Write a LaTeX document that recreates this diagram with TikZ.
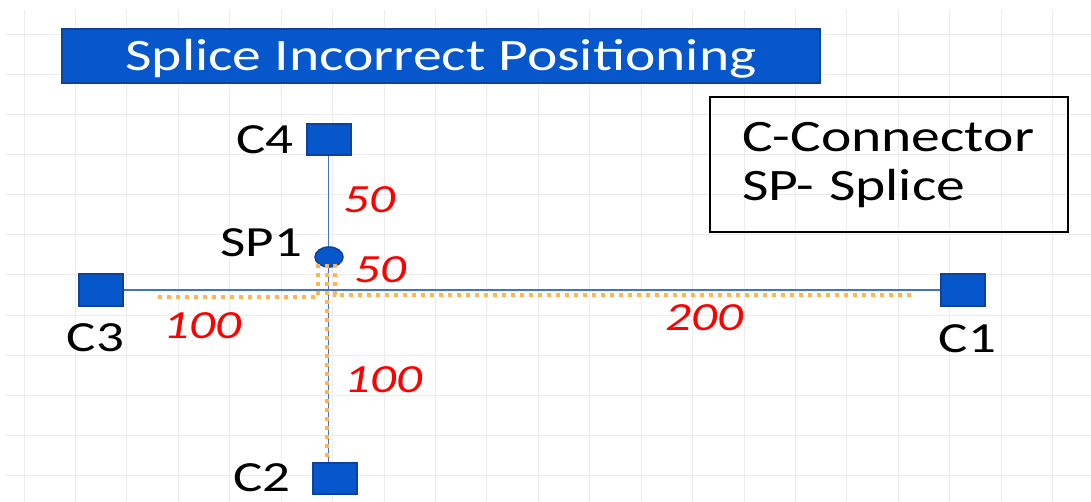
\documentclass[tikz,border=0pt]{standalone}
\usepackage{fontspec}
\setmainfont{Carlito}[FakeStretch=1.28]
\usetikzlibrary{positioning, shapes.geometric, backgrounds}

\definecolor{boxblue}{RGB}{6,86,204}
\definecolor{edgeblue}{RGB}{14,66,156}
\definecolor{wireblue}{RGB}{68,114,196}
\definecolor{routeorange}{RGB}{255,182,82}
\definecolor{gridgray}{RGB}{236,236,236}

\begin{document}
\begin{tikzpicture}[
    x=1pt, y=-1pt,
    titlebox/.style={draw=edgeblue, fill=boxblue, line width=2pt, text=white, inner sep=0pt,
        minimum width=758pt, minimum height=54pt, text height=30pt, text depth=0pt,
        font=\fontsize{45}{50}\selectfont},
    legendbox/.style={draw=black, line width=2pt, align=left, text width=294pt, inner xsep=32pt,
        inner ysep=0pt, minimum height=135pt, text height=29pt, text depth=54pt,
        font=\fontsize{45}{49}\selectfont},
    conn/.style={rectangle, draw=edgeblue, fill=boxblue, line width=2pt,
        minimum width=44pt, minimum height=31pt, inner sep=0pt},
    splice/.style={ellipse, draw=edgeblue, fill=boxblue, line width=1.5pt,
        minimum width=28pt, minimum height=20pt, inner sep=0pt},
    tag/.style={inner sep=0pt, font=\fontsize{43}{46}\selectfont},
    len/.style={inner sep=0pt, text=red, font=\fontsize{40}{44}\selectfont\itshape},
    wire/.style={wireblue, line width=1.3pt},
    route/.style={routeorange, line width=4pt, dash pattern=on 4.5pt off 4.5pt},
    gridline/.style={gridgray, line width=1pt}
]
\useasboundingbox (0,0) rectangle (1091,502);

% Title and legend
\node[titlebox] (title) at (441,56) {Splice Incorrect Positioning};
\node[legendbox] (legend) at (889,164.5) {C-Connector\\SP- Splice};

% Connectors and splice
\node[conn] (c4) at (328.5,140) {};
\node[conn] (c3) at (100.5,290) {};
\node[conn] (c1) at (963,290) {};
\node[conn] (c2) at (335,478) {};
\node[splice] (sp1) at (329,257) {};

% Names
\node[tag, left=12pt of c4] (c4lbl) {C4};
\node[tag, below=17pt of c3, xshift=-5pt] (c3lbl) {C3};
\node[tag, below=17.5pt of c1, xshift=4.5pt] (c1lbl) {C1};
\node[tag, left=21pt of c2] (c2lbl) {C2};
\node[tag, anchor=south east] (sp1lbl) at ([xshift=-12pt]sp1.west) {SP1};

% Grid and wires behind everything
\begin{scope}[on background layer]
    \foreach \gx in {0,...,20}
        \draw[gridline] (24+\gx*51.43,10) -- (24+\gx*51.43,502);
    \foreach \gy in {0,...,11}
        \draw[gridline] (5,35+\gy*40) -- (1091,35+\gy*40);
    \draw[wire] (c4.south) -- (c4.south |- c2.north);
    \draw[wire] (c3.east) -- (c1.west);
\end{scope}

% Routed lengths from the splice
\coordinate (endc3) at (155,297);
\coordinate (endc1) at (913,295);
\coordinate (endc2) at (327,457);
\draw[route] ([shift={(-11,-4)}]sp1.south) |- (endc3);
\draw[route] ([shift={(6,-4)}]sp1.south) |- (endc1);
\draw[route] ([shift={(-2,-4)}]sp1.south) -- (endc2);

% Lengths
\node[len] (lenc4) at (369,199.5) {50};
\node[len] (lensp) at (380,269.5) {50};
\node[len] (lenc3) at (202.5,326) {100};
\node[len] (lenc1) at (704,317.5) {200};
\node[len] (lenc2) at (383.5,380) {100};

\end{tikzpicture}
\end{document}
